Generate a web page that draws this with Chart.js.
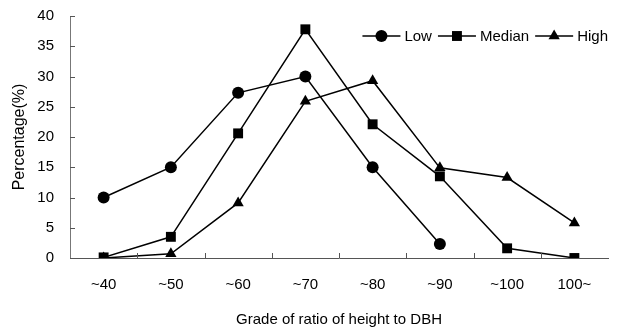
<!DOCTYPE html>
<html>
<head>
<meta charset="utf-8">
<script src="https://cdn.jsdelivr.net/npm/chart.js@4/dist/chart.umd.min.js"></script>
<style>
  html, body { margin: 0; padding: 0; background: #fff; }
  #wrap { width: 622px; height: 329px; }
</style>
</head>
<body>
<div id="wrap"><canvas id="chart1"></canvas></div>
<script>
(function(){
  'use strict';

  // data
  var grades = ['~40', '~50', '~60', '~70', '~80', '~90', '~100', '100~'];
  var lowValues = [10, 15, 27.3, 30, 15, 2.3, null, null];
  var medianValues = [0.1, 3.5, 20.6, 37.8, 22.1, 13.5, 1.6, 0];
  var highValues = [0, 0.7, 9.1, 25.9, 29.3, 14.9, 13.3, 5.8];
  var yTicks = [0, 5, 10, 15, 20, 25, 30, 35, 40];

  var font = 'Liberation Sans, Arial, sans-serif';

  function series(label, data, style, radius) {
    return {
      label: label,
      data: data,
      borderColor: '#000',
      backgroundColor: '#000',
      borderWidth: 1.5,
      pointStyle: style,
      pointRadius: radius,
      pointBorderWidth: 0,
      spanGaps: false,
      tension: 0
    };
  }

  // inward tick marks for both axes
  var innerTicks = {
    id: 'innerTicks',
    afterDraw: function(chart) {
      var ctx = chart.ctx;
      var x = chart.scales.x, y = chart.scales.y;
      ctx.save();
      ctx.strokeStyle = '#555';
      ctx.lineWidth = 1;
      ctx.beginPath();
      yTicks.forEach(function(v) {
        var py = Math.round(y.getPixelForValue(v)) + 0.5;
        ctx.moveTo(chart.chartArea.left, py);
        ctx.lineTo(chart.chartArea.left + 5, py);
      });
      for (var i = 1; i < grades.length; i++) {
        var px = Math.round((x.getPixelForValue(i - 1) + x.getPixelForValue(i)) / 2) + 0.5;
        ctx.moveTo(px, chart.chartArea.bottom);
        ctx.lineTo(px, chart.chartArea.bottom - 5);
      }
      ctx.stroke();
      ctx.restore();
    }
  };

  // legend drawn inside the plot, line + marker + text
  var lineLegend = {
    id: 'lineLegend',
    afterDraw: function(chart) {
      var ctx = chart.ctx;
      var area = chart.chartArea;
      var cy = area.top + 20;
      ctx.save();
      ctx.font = '15px ' + font;
      ctx.textBaseline = 'middle';
      var sample = 38, gap = 4, space = 6;
      var items = chart.data.datasets.map(function(ds) {
        return { ds: ds, w: sample + gap + ctx.measureText(ds.label).width };
      });
      var total = items.reduce(function(s, it) { return s + it.w; }, 0) + space * (items.length - 1);
      var x = area.right - total;
      items.forEach(function(it) {
        ctx.strokeStyle = '#000';
        ctx.lineWidth = 1.5;
        ctx.beginPath();
        ctx.moveTo(x, cy);
        ctx.lineTo(x + sample, cy);
        ctx.stroke();
        ctx.fillStyle = '#000';
        Chart.helpers.drawPoint(ctx, {
          pointStyle: it.ds.pointStyle,
          radius: it.ds.pointRadius,
          borderWidth: 0,
          rotation: 0
        }, x + sample / 2, cy);
        ctx.fillStyle = '#000';
        ctx.fillText(it.ds.label, x + sample + gap, cy + 1);
        x += it.w + space;
      });
      ctx.restore();
    }
  };

  var c1 = document.getElementById('chart1');

  var chart1 = new Chart(c1, {
    type: 'line',
    data: {
      labels: grades,
      datasets: [
        series('Low', lowValues, 'circle', 6),
        series('Median', medianValues, 'rect', 7),
        series('High', highValues, 'triangle', 6.5)
      ]
    },
    options: {
      responsive: true,
      maintainAspectRatio: false,
      animation: false,
      layout: {
        autoPadding: false,
        padding: { top: 16, right: 14, left: 0, bottom: 0 }
      },
      plugins: {
        legend: { display: false },
        tooltip: { enabled: false }
      },
      scales: {
        x: {
          offset: true,
          grid: { display: false, drawTicks: false },
          border: { display: true, color: '#555', width: 1 },
          ticks: {
            color: '#000',
            padding: 18,
            font: { family: font, size: 15 }
          },
          title: {
            display: true,
            text: 'Grade of ratio of height to DBH',
            color: '#000',
            padding: { top: 6, bottom: 0 },
            font: { family: font, size: 15 }
          },
          afterFit: function(scale) { scale.height = 71; }
        },
        y: {
          min: 0,
          max: 40,
          afterBuildTicks: function(scale) {
            scale.ticks = yTicks.map(function(v) { return { value: v }; });
          },
          grid: { display: false, drawTicks: false },
          border: { display: true, color: '#777', width: 1 },
          ticks: {
            color: '#000',
            padding: 16,
            font: { family: font, size: 15 }
          },
          title: {
            display: true,
            text: 'Percentage(%)',
            color: '#000',
            padding: { top: 10, bottom: 0 },
            font: { family: font, size: 16 }
          },
          afterFit: function(scale) {
            scale.width = 70;
            scale.paddingTop = 0;
            scale.paddingBottom = 0;
          }
        }
      }
    },
    plugins: [innerTicks, lineLegend]
  });

}());
</script>
</body>
</html>
